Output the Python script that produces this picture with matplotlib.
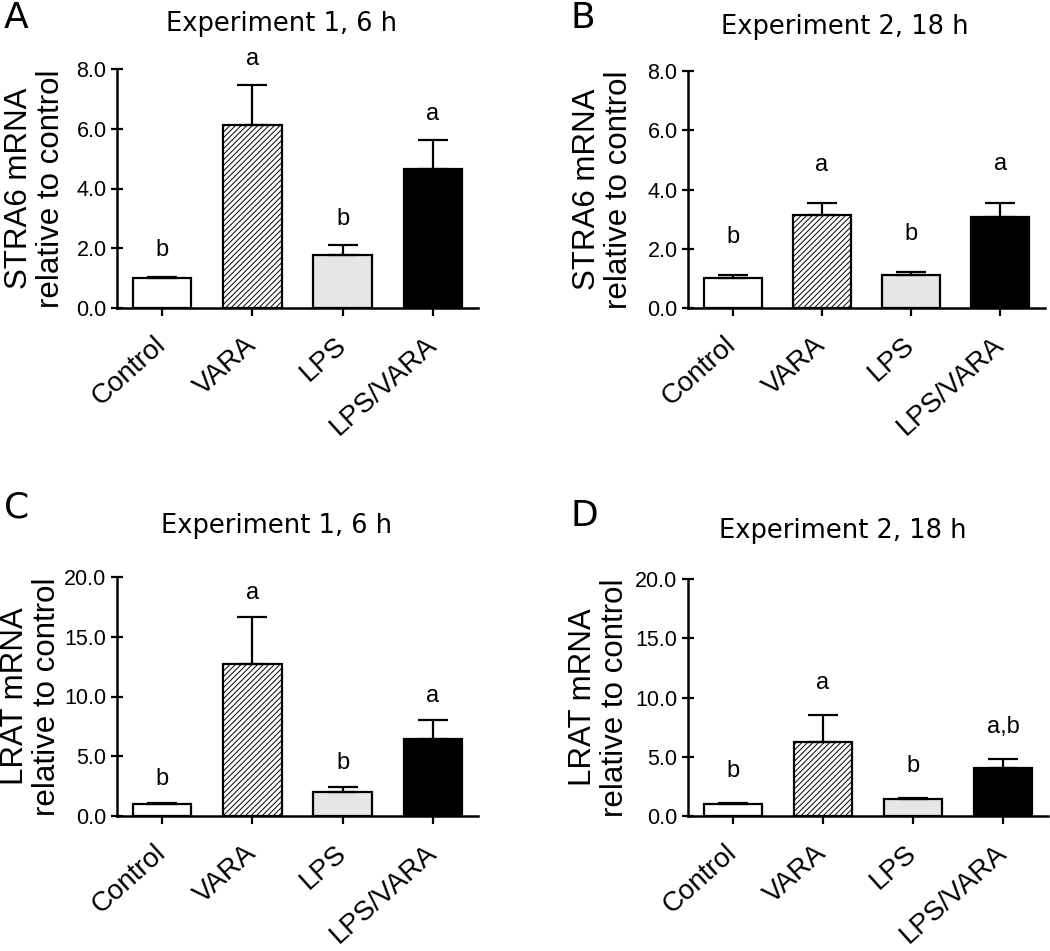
import matplotlib
matplotlib.use("Agg")
import matplotlib.pyplot as plt
import numpy as np

plt.rcParams['hatch.linewidth'] = 0.7
plt.rcParams['hatch.color'] = '#222222'

categories = ["Control", "VARA", "LPS", "LPS/VARA"]

stra6_exp1_mean = [1.02, 6.12, 1.78, 4.66]
stra6_exp1_err = [0.03, 1.33, 0.33, 0.97]
stra6_exp2_mean = [1.00, 3.14, 1.11, 3.07]
stra6_exp2_err = [0.11, 0.40, 0.09, 0.49]
lrat_exp1_mean = [1.00, 12.72, 2.00, 6.44]
lrat_exp1_err = [0.09, 3.95, 0.39, 1.56]
lrat_exp2_mean = [1.00, 6.23, 1.41, 4.02]
lrat_exp2_err = [0.08, 2.31, 0.12, 0.80]

letters_A = ["b", "a", "b", "a"]
letters_B = ["b", "a", "b", "a"]
letters_C = ["b", "a", "b", "a"]
letters_D = ["b", "a", "b", "a,b"]

titles = ["Experiment 1, 6 h", "Experiment 2, 18 h", "Experiment 1, 6 h", "Experiment 2, 18 h"]
panel_tags = ["A", "B", "C", "D"]
ylabels = ["STRA6 mRNA\nrelative to control", "STRA6 mRNA\nrelative to control",
           "LRAT mRNA\nrelative to control", "LRAT mRNA\nrelative to control"]
yticks_stra6 = [0, 2, 4, 6, 8]
yticks_lrat = [0, 5, 10, 15, 20]

bar_faces = ["white", "white", "#e6e6e6", "black"]
bar_hatches = [None, "//////", None, None]

W, H = 1050, 951
fig = plt.figure(figsize=(W / 100, H / 100), dpi=100)

# pixel geometry: left, right, top, bottom
boxes = [(117, 478, 69, 308), (688, 1045, 71, 308),
         (117, 478, 577, 816), (688, 1048, 579, 816)]
title_pos = [(282, 31), (845, 34), (277, 533), (843, 538)]
tag_pos = [(4, 28), (571, 28), (4, 518), (570, 526)]
ylabel_x = [66, 634, 62, 630]
letter_off = [11, 19.5, 9.5, 15]

means = [stra6_exp1_mean, stra6_exp2_mean, lrat_exp1_mean, lrat_exp2_mean]
errs = [stra6_exp1_err, stra6_exp2_err, lrat_exp1_err, lrat_exp2_err]
letters = [letters_A, letters_B, letters_C, letters_D]
ticks = [yticks_stra6, yticks_stra6, yticks_lrat, yticks_lrat]

LAB = "Liberation Sans"
WIDE = "DejaVu Sans"

for i in range(4):
    l, r, t, b = boxes[i]
    ax = fig.add_axes([l / W, 1 - b / H, (r - l) / W, (b - t) / H])
    x = np.arange(len(categories))
    m = np.array(means[i])
    e = np.array(errs[i])
    ax.bar(x, m, width=0.65, color=bar_faces, edgecolor="black",
           linewidth=1.6, zorder=2)
    for j, p in enumerate(ax.patches):
        if bar_hatches[j]:
            p.set_hatch(bar_hatches[j])
    ax.errorbar(x, m, yerr=[np.zeros_like(e), e], fmt="none", ecolor="black",
                elinewidth=1.6, capsize=11, capthick=1.6, zorder=3)
    for j in range(len(categories)):
        ax.annotate(letters[i][j], (x[j], m[j] + e[j]), xytext=(0, letter_off[i]),
                    textcoords="offset points", ha="center", va="bottom",
                    fontsize=17, family=LAB)
    ax.set_xlim(-0.5, 3.5)
    ax.set_ylim(0, ticks[i][-1])
    ax.set_yticks(ticks[i])
    ax.set_yticklabels([f"{v:.1f}" for v in ticks[i]], fontsize=15.5, family=LAB)
    ax.set_xticks(x)
    ax.set_xticklabels(categories, rotation=42, ha="right", va="center",
                       rotation_mode="anchor", fontsize=20, family=LAB)
    ax.tick_params(axis="x", direction="out", length=6, width=1.6, pad=18)
    ax.tick_params(axis="y", direction="inout", length=9, width=1.6, pad=3)
    for s in ["top", "right"]:
        ax.spines[s].set_visible(False)
    for s in ["left", "bottom"]:
        ax.spines[s].set_linewidth(1.8)
    ax.set_ylabel(ylabels[i], fontsize=22.5, family=LAB, linespacing=1.1)
    ax.yaxis.set_label_coords((ylabel_x[i] - l) / (r - l), 0.5)
    tx, ty = title_pos[i]
    fig.text(tx / W, 1 - ty / H, titles[i], ha="center", va="baseline",
             fontsize=18.5, family=WIDE)
    px, py = tag_pos[i]
    fig.text(px / W, 1 - py / H, panel_tags[i], ha="left", va="baseline",
             fontsize=26, family=WIDE)

fig.savefig("out.png", dpi=100)
